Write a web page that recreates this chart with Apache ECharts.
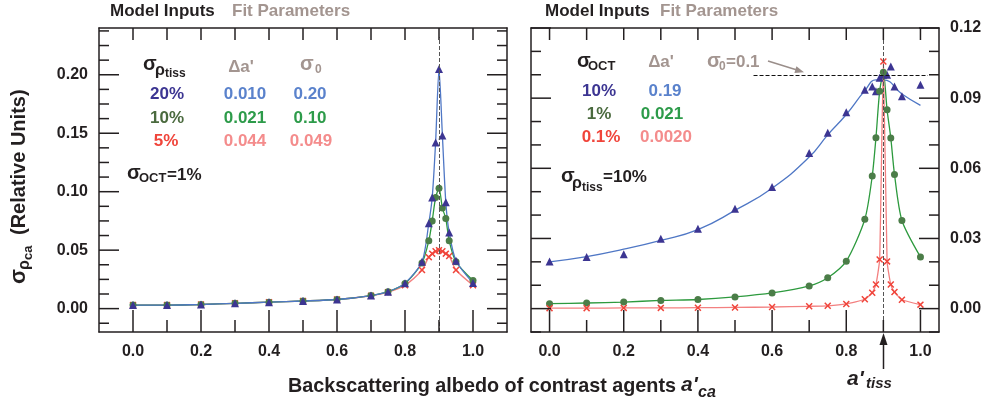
<!DOCTYPE html>
<html>
<head>
<meta charset="utf-8">
<script src="https://cdn.jsdelivr.net/npm/echarts@6/dist/echarts.min.js"></script>
<style>
  html, body { margin: 0; padding: 0; background: #fff; }
  #chart { width: 986px; height: 406px; }
</style>
</head>
<body>
<div id="chart"></div>
<script>
// left panel: sigma_OCT = 1%, three tissue noise levels
const leftX = [0, 0.1, 0.2, 0.3, 0.4, 0.5, 0.6, 0.7, 0.75, 0.8, 0.85, 0.87, 0.88, 0.89, 0.9, 0.91, 0.92, 0.93, 0.95, 1.0];
const leftBlue = [0.003, 0.003, 0.0035, 0.0045, 0.0055, 0.0065, 0.0078, 0.0112, 0.0145, 0.0218, 0.040, 0.073, 0.095, 0.142, 0.205, 0.148, 0.091, 0.065, 0.041, 0.022];
const leftGreen = [0.003, 0.003, 0.0035, 0.0045, 0.0055, 0.0065, 0.0078, 0.0112, 0.0145, 0.0215, 0.039, 0.058, 0.075, 0.095, 0.103, 0.086, 0.077, 0.058, 0.040, 0.024];
const leftRed = [0.003, 0.003, 0.0035, 0.0045, 0.0055, 0.0065, 0.0078, 0.011, 0.014, 0.020, 0.033, 0.044, 0.047, 0.049, 0.050, 0.049, 0.047, 0.045, 0.033, 0.020];

// right panel: sigma_rho_tiss = 10%, three OCT noise levels
const rightX = [0, 0.1, 0.2, 0.3, 0.4, 0.5, 0.6, 0.7, 0.75, 0.8, 0.85, 0.87, 0.88, 0.89, 0.9, 0.91, 0.92, 0.93, 0.95, 1.0];
const rightBlue = [0.0202, 0.0221, 0.0232, 0.0299, 0.0342, 0.0427, 0.052, 0.0665, 0.0752, 0.084, 0.0936, 0.095, 0.0929, 0.0987, 0.100, 0.100, 0.1035, 0.095, 0.0908, 0.0957];
const rightGreen = [0.0021, 0.0024, 0.0028, 0.0035, 0.0039, 0.005, 0.0067, 0.0097, 0.0132, 0.0203, 0.0382, 0.0567, 0.0731, 0.0929, 0.1011, 0.085, 0.073, 0.0574, 0.0377, 0.0221];
const rightRed = [0.0002, 0.0002, 0.0003, 0.0003, 0.0004, 0.0005, 0.0007, 0.001, 0.0012, 0.002, 0.004, 0.0068, 0.0103, 0.021, 0.1057, 0.0202, 0.0103, 0.0071, 0.0038, 0.0017];
// fitted curve for the blue triangles
const blueFitX = [0, 0.1, 0.2, 0.3, 0.4, 0.5, 0.6, 0.7, 0.75, 0.8, 0.85, 0.88, 0.9, 0.95, 1.0];
const blueFit = [0.020, 0.0222, 0.0254, 0.0292, 0.0338, 0.042, 0.0515, 0.0648, 0.0743, 0.083, 0.0932, 0.0978, 0.0978, 0.0918, 0.0869];

// ticks
const xMajor = [0, 0.2, 0.4, 0.6, 0.8, 1.0];
const xMinor = [0.1, 0.3, 0.5, 0.7, 0.9];
const leftYMajor = [0, 0.05, 0.10, 0.15, 0.20];
const leftYMinor = [-0.0125, 0.0125, 0.025, 0.0375, 0.0625, 0.075, 0.0875, 0.1125, 0.125, 0.1375, 0.1625, 0.175, 0.1875, 0.2125, 0.225, 0.2375];
const rightYMajor = [0, 0.03, 0.06, 0.09, 0.12];
const rightYMinor = [-0.01, 0.01, 0.02, 0.04, 0.05, 0.07, 0.08, 0.10, 0.11];

const tissAlbedo = 0.9;
const sigma0 = 0.1;

const FONT = '"Liberation Sans", Arial, Helvetica, sans-serif';
const INK = "#231f20";
const GREY = "#a39590";
const C = {
  tri: "#3c3592", blueLine: "#4f77c5", blueTxt: "#5a82cc",
  dot: "#4b7d48", greenLine: "#2d9a3e", greenTxt: "#2d9b4a", greenIn: "#4a6a3e",
  cross: "#f0443a", redLine: "#f38080", redTxt: "#f48c8c",
};
const crossPath = "path://M0,1.5L1.5,0L5,3.5L8.5,0L10,1.5L6.5,5L10,8.5L8.5,10L5,6.5L1.5,10L0,8.5L3.5,5Z";

const pairs = (xs, ys) => xs.map((x, i) => [x, ys[i]]);

const TOP = 28, HEIGHT = 304;
const frameLine = { show: true, onZero: false, lineStyle: { color: INK, width: 1.5 } };
const labelFont = { color: INK, fontSize: 16, fontWeight: "bold", fontFamily: FONT };

const L = { grid: 0, left: 99, width: 408, xMin: -0.1, xMax: 1.1, yMin: -0.02, yMax: 0.24, yMajor: leftYMajor, yMinor: leftYMinor, labelSide: "left" };
const R = { grid: 1, left: 531, width: 408, xMin: -0.05, xMax: 1.05, yMin: -0.01, yMax: 0.12, yMajor: rightYMajor, yMinor: rightYMinor, labelSide: "right" };

function xAxesFor(p) {
  const base = { type: "value", gridIndex: p.grid, min: p.xMin, max: p.xMax, splitLine: { show: false }, axisTick: { show: false }, axisLine: frameLine };
  return [
    Object.assign({}, base, {
      position: "bottom",
      axisLabel: Object.assign({ customValues: xMajor, margin: 12, formatter: (v) => v.toFixed(1) }, labelFont),
    }),
    Object.assign({}, base, { position: "top", axisLabel: { show: false } }),
  ];
}

function yAxesFor(p) {
  const base = { type: "value", gridIndex: p.grid, min: p.yMin, max: p.yMax, splitLine: { show: false }, axisTick: { show: false }, axisLine: frameLine };
  return ["left", "right"].map((side) => Object.assign({}, base, {
    position: side,
    axisLabel: side === p.labelSide
      ? Object.assign({ customValues: p.yMajor, margin: 11, formatter: (v) => v.toFixed(2) }, labelFont)
      : { show: false },
  }));
}

function fitLine(xi, yi, xs, ys, color, extra) {
  return Object.assign({
    type: "line", xAxisIndex: xi, yAxisIndex: yi, data: pairs(xs, ys),
    showSymbol: false, smooth: 0.25,
    lineStyle: { color: color, width: 1.3 }, z: 2, silent: true,
  }, extra || {});
}

function marks(xi, yi, xs, ys, symbol, size, color) {
  return {
    type: "scatter", xAxisIndex: xi, yAxisIndex: yi, data: pairs(xs, ys),
    symbol: symbol, symbolSize: size, itemStyle: { color: color, opacity: 1 }, z: 3, silent: true,
  };
}

function txt(x, y, text, size, color, opt) {
  opt = opt || {};
  const align = opt.align || "left";
  return {
    type: "text", x: x, y: y, silent: true,
    style: {
      text: text, fill: color,
      font: (opt.italic ? "italic " : "") + "bold " + size + "px " + FONT,
      align: align, verticalAlign: "middle", textAlign: align, textVerticalAlign: "middle",
    },
  };
}

const dashed = { type: "dashed", color: "#555", width: 1 };

const chart = echarts.init(document.getElementById("chart"));

chart.setOption({
  animation: false,
  grid: [
    { left: L.left, top: TOP, width: L.width, height: HEIGHT, outerBoundsMode: "none" },
    { left: R.left, top: TOP, width: R.width, height: HEIGHT, outerBoundsMode: "none" },
  ],
  // x: 0 bottom-left, 1 top-left, 2 bottom-right, 3 top-right; y: 0 left-left, 1 right-left, 2 left-right, 3 right-right
  xAxis: xAxesFor(L).concat(xAxesFor(R)),
  yAxis: yAxesFor(L).concat(yAxesFor(R)),
  series: [
    fitLine(0, 0, leftX, leftRed, C.redLine),
    fitLine(0, 0, leftX, leftGreen, C.greenLine),
    fitLine(0, 0, leftX, leftBlue, C.blueLine, {
      markLine: {
        silent: true, symbol: ["none", "none"], label: { show: false }, lineStyle: dashed,
        data: [[{ coord: [tissAlbedo, -0.02] }, { coord: [tissAlbedo, 0.232] }]],
      },
    }),
    marks(0, 0, leftX, leftRed, crossPath, 7, C.cross),
    marks(0, 0, leftX, leftGreen, "circle", 7, C.dot),
    marks(0, 0, leftX, leftBlue, "triangle", 8, C.tri),

    fitLine(2, 2, blueFitX, blueFit, C.blueLine, {
      smooth: 0.5,
      markLine: {
        silent: true, symbol: ["none", "none"], label: { show: false }, lineStyle: dashed,
        data: [
          { xAxis: tissAlbedo },
          [{ coord: [0.55, sigma0], lineStyle: { color: "#111" } }, { coord: [1.02, sigma0] }],
        ],
      },
    }),
    fitLine(2, 2, rightX, rightGreen, C.greenLine),
    fitLine(2, 2, rightX, rightRed, C.redLine, { smooth: 0.15 }),
    marks(2, 2, rightX, rightBlue, "triangle", 8, C.tri),
    marks(2, 2, rightX, rightGreen, "circle", 7, C.dot),
    marks(2, 2, rightX, rightRed, crossPath, 7, C.cross),
  ],
});

// inward tick marks of the frame, placed through the chart's own axes
function frameTicks(p) {
  const px = (x, y) => chart.convertToPixel({ gridIndex: p.grid }, [x, y]);
  const out = [];
  const seg = (a, dx, dy) => out.push({
    type: "line", silent: true, z: 50,
    shape: { x1: a[0], y1: a[1], x2: a[0] + dx, y2: a[1] + dy },
    style: { stroke: INK, lineWidth: 1.5 },
  });
  xMajor.forEach((v) => seg(px(v, p.yMin), 0, -22));
  xMinor.forEach((v) => seg(px(v, p.yMin), 0, -12));
  xMajor.concat(xMinor).forEach((v) => seg(px(v, p.yMax), 0, 12));
  p.yMajor.forEach((v) => { seg(px(p.xMin, v), 20, 0); seg(px(p.xMax, v), -20, 0); });
  p.yMinor.forEach((v) => { seg(px(p.xMin, v), 10, 0); seg(px(p.xMax, v), -10, 0); });
  return out;
}

const notes = [
  // headers
  txt(110, 11, "Model Inputs", 17, INK),
  txt(232, 11, "Fit Parameters", 17, GREY),
  txt(545, 11, "Model Inputs", 17, INK),
  txt(660, 11, "Fit Parameters", 17, GREY),

  // left panel legend table
  txt(143, 64, "σ", 20, INK),
  txt(155, 71, "ρ", 16, INK),
  txt(165, 74, "tiss", 12, INK),
  txt(241, 67, "Δa'", 17, GREY, { align: "center" }),
  txt(300, 64, "σ", 20, GREY),
  txt(315, 70, "0", 12, GREY),
  txt(167, 94, "20%", 17, C.tri, { align: "center" }),
  txt(245, 94, "0.010", 17, C.blueTxt, { align: "center" }),
  txt(310, 94, "0.20", 17, C.blueTxt, { align: "center" }),
  txt(167, 118, "10%", 17, C.greenIn, { align: "center" }),
  txt(245, 118, "0.021", 17, C.greenTxt, { align: "center" }),
  txt(310, 118, "0.10", 17, C.greenTxt, { align: "center" }),
  txt(166, 141, "5%", 17, C.cross, { align: "center" }),
  txt(245, 141, "0.044", 17, C.redTxt, { align: "center" }),
  txt(311, 141, "0.049", 17, C.redTxt, { align: "center" }),
  txt(127, 173, "σ", 20, INK),
  txt(139, 178, "OCT", 13, INK),
  txt(167, 175, "=1%", 17, INK),

  // right panel legend table
  txt(577, 61, "σ", 20, INK),
  txt(588, 66, "OCT", 13, INK),
  txt(661, 62, "Δa'", 17, GREY, { align: "center" }),
  txt(707, 61, "σ", 20, GREY),
  txt(719, 67, "0", 12, GREY),
  txt(726, 62, "=0.1", 17, GREY),
  txt(599, 91, "10%", 17, C.tri, { align: "center" }),
  txt(665, 91, "0.19", 17, C.blueTxt, { align: "center" }),
  txt(599, 114, "1%", 17, C.greenIn, { align: "center" }),
  txt(662, 114, "0.021", 17, C.greenTxt, { align: "center" }),
  txt(601, 137, "0.1%", 17, C.cross, { align: "center" }),
  txt(666, 137, "0.0020", 17, C.redTxt, { align: "center" }),
  txt(561, 176, "σ", 20, INK),
  txt(572, 184, "ρ", 16, INK),
  txt(582, 188, "tiss", 12, INK),
  txt(603, 177, "=10%", 17, INK),

  // sigma_0 arrow
  { type: "line", silent: true, shape: { x1: 768, y1: 61, x2: 797, y2: 70 }, style: { stroke: "#9a8e8a", lineWidth: 1.5 } },
  { type: "polygon", silent: true, shape: { points: [[804, 72.3], [794.4, 72.9], [796.4, 66.3]] }, style: { fill: "#9a8e8a" } },

  // a'_tiss arrow
  { type: "line", silent: true, shape: { x1: 883.5, y1: 369, x2: 883.5, y2: 342 }, style: { stroke: INK, lineWidth: 1.5 } },
  { type: "polygon", silent: true, shape: { points: [[883.5, 333], [879.5, 345], [887.5, 345]] }, style: { fill: INK } },
  txt(847, 379, "a'", 21, INK, { italic: true }),
  txt(866, 384, "tiss", 15, INK, { italic: true }),

  // x axis title
  txt(288, 387, "Backscattering albedo of contrast agents", 19.8, INK),
  txt(681, 385, "a'", 21, INK, { italic: true }),
  txt(698, 393, "ca", 16, INK, { italic: true }),

  // y axis title, rotated
  {
    type: "group", x: 19, y: 284, rotation: Math.PI / 2, silent: true,
    children: [
      txt(0, 0, "σ", 22, INK),
      txt(14, 6, "ρ", 16, INK),
      txt(24, 9, "ca", 13, INK),
      txt(49, 0, "(Relative Units)", 20, INK),
    ],
  },
];

chart.setOption({ graphic: notes.concat(frameTicks(L), frameTicks(R)) });
</script>
</body>
</html>
